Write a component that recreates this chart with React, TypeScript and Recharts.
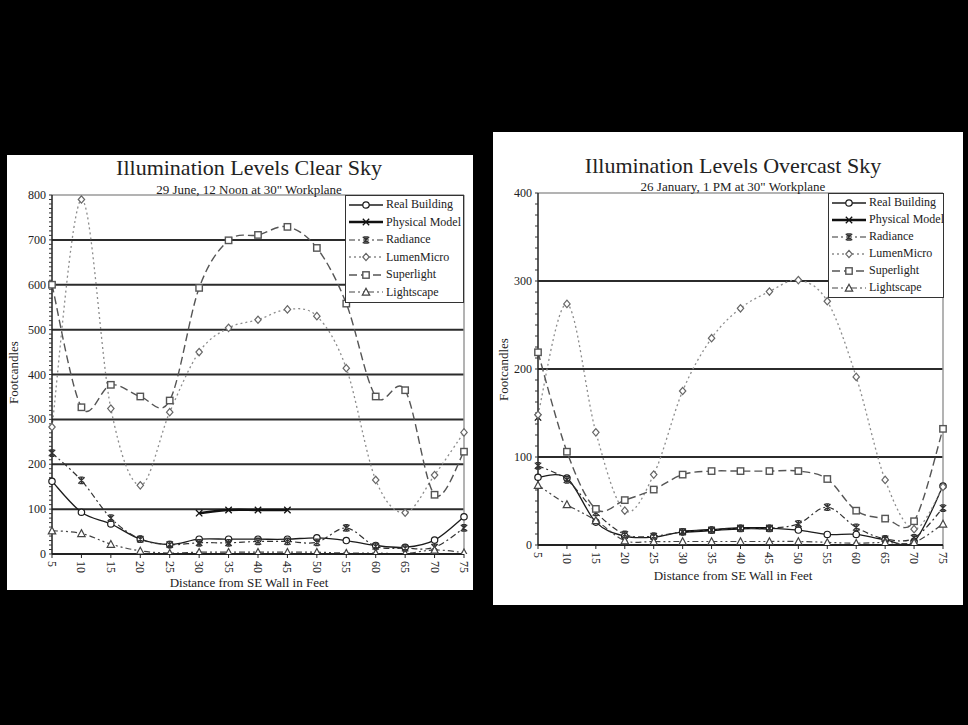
import { LineChart, Line, XAxis, YAxis, ReferenceLine, Legend } from 'recharts';

const DISTANCE = [5, 10, 15, 20, 25, 30, 35, 40, 45, 50, 55, 60, 65, 70, 75];
const SERIES_NAMES = ['Real Building', 'Physical Model', 'Radiance', 'LumenMicro', 'Superlight', 'Lightscape'];

// clear sky, 29 June
const CLEAR_REAL = [162, 93, 67, 33, 21, 33, 33, 33, 33, 36, 30, 19, 15, 31, 83];
const CLEAR_PHYSICAL = [null, null, null, null, null, 91, 98, 98, 98, null, null, null, null, null, null];
const CLEAR_RADIANCE = [225, 164, 80, 33, 21, 25, 25, 28, 28, 26, 58, 17, 13, 15, 58];
const CLEAR_LUMEN = [283, 790, 324, 153, 316, 450, 504, 522, 545, 530, 414, 165, 92, 176, 271];
const CLEAR_SUPERLIGHT = [600, 327, 377, 351, 342, 593, 699, 711, 729, 682, 558, 351, 365, 132, 228];
const CLEAR_LIGHTSCAPE = [52, 46, 22, 7, 2, 4, 4, 4, 4, 4, 2, 2, 1, 9, 3];
const CLEAR_Y_TICKS = [0, 100, 200, 300, 400, 500, 600, 700, 800];

// overcast sky, 26 January
const OVER_REAL = [77, 76, 26, 10, 9, 15, 17, 19, 19, 17, 12, 12, 6, 4, 67];
const OVER_PHYSICAL = [145, null, null, null, null, 15, 17, 19, 19, null, null, null, null, null, null];
const OVER_RADIANCE = [90, 74, 37, 12, 10, 15, 17, 19, 19, 24, 43, 20, 7, 8, 42];
const OVER_LUMEN = [148, 274, 128, 39, 80, 175, 235, 269, 288, 301, 277, 191, 74, 18, 66];
const OVER_SUPERLIGHT = [219, 106, 41, 51, 63, 80, 84, 84, 84, 84, 75, 39, 30, 27, 132];
const OVER_LIGHTSCAPE = [68, 46, 28, 5, 4, 4, 4, 4, 4, 4, 3, 2, 3, 3, 24];
const OVER_Y_TICKS = [0, 100, 200, 300, 400];

const FONT = '"Liberation Serif", "Times New Roman", serif';

const STYLES = [
  { key: 'real', marker: 'circle', stroke: '#1c1c1c', width: 1.3, dash: undefined },
  { key: 'physical', marker: 'x', stroke: '#111', width: 2.4, dash: undefined },
  { key: 'radiance', marker: 'star', stroke: '#333', width: 1.2, dash: '6 3 2 3' },
  { key: 'lumen', marker: 'diamond', stroke: '#8c8c8c', width: 1.3, dash: '2 3' },
  { key: 'superlight', marker: 'square', stroke: '#555', width: 1.4, dash: '8 4' },
  { key: 'lightscape', marker: 'triangle', stroke: '#444', width: 1.2, dash: '6 3 2 3 2 3' },
];

const buildRows = (series: (number | null)[][]) =>
  DISTANCE.map((d, i) => {
    const row: any = { d };
    STYLES.forEach((s, j) => (row[s.key] = series[j][i]));
    return row;
  });

const CLEAR_ROWS = buildRows([CLEAR_REAL, CLEAR_PHYSICAL, CLEAR_RADIANCE, CLEAR_LUMEN, CLEAR_SUPERLIGHT, CLEAR_LIGHTSCAPE]);
const OVER_ROWS = buildRows([OVER_REAL, OVER_PHYSICAL, OVER_RADIANCE, OVER_LUMEN, OVER_SUPERLIGHT, OVER_LIGHTSCAPE]);

// excel-like smoothing (catmull-rom through the points)
const excelCurve = (context: any) => {
  let pts: number[][] = [];
  return {
    areaStart() {},
    areaEnd() {},
    lineStart() { pts = []; },
    point(x: number, y: number) { pts.push([+x, +y]); },
    lineEnd() {
      if (!pts.length) return;
      context.moveTo(pts[0][0], pts[0][1]);
      for (let i = 0; i < pts.length - 1; i++) {
        const p0 = pts[Math.max(i - 1, 0)];
        const p1 = pts[i];
        const p2 = pts[i + 1];
        const p3 = pts[Math.min(i + 2, pts.length - 1)];
        context.bezierCurveTo(
          p1[0] + (p2[0] - p0[0]) / 6, p1[1] + (p2[1] - p0[1]) / 6,
          p2[0] - (p3[0] - p1[0]) / 6, p2[1] - (p3[1] - p1[1]) / 6,
          p2[0], p2[1]);
      }
    },
  };
};

function Marker({ kind, x, y, color }: { kind: string; x: number; y: number; color: string }) {
  const s = 3.2;
  const common = { fill: '#fff', stroke: color, strokeWidth: 1.2 };
  switch (kind) {
    case 'circle':
      return <circle cx={x} cy={y} r={s} {...common} />;
    case 'x':
      return <path d={`M${x - s},${y - s}L${x + s},${y + s}M${x - s},${y + s}L${x + s},${y - s}`} stroke={color} strokeWidth={1.3} />;
    case 'star':
      return <path d={`M${x - s},${y - s}L${x + s},${y + s}M${x - s},${y + s}L${x + s},${y - s}M${x},${y - s}V${y + s}M${x - 2},${y - s}H${x + 2}M${x - 2},${y + s}H${x + 2}`} stroke={color} strokeWidth={1.3} />;
    case 'diamond':
      return <polygon points={`${x},${y - s - 0.5} ${x + s},${y} ${x},${y + s + 0.5} ${x - s},${y}`} {...common} />;
    case 'square':
      return <rect x={x - s} y={y - s} width={s * 2} height={s * 2} {...common} strokeWidth={1.4} />;
    default:
      return <polygon points={`${x},${y - s - 0.5} ${x + s + 0.5},${y + s} ${x - s - 0.5},${y + s}`} {...common} />;
  }
}

const markerStroke = (s: any) => (s.key === 'lumen' ? '#666' : s.stroke);

const makeDot = (s: any) => (p: any) => {
  const key = `${s.key}-${p.index}`;
  if (p.cx == null || p.cy == null || p.value == null) return <g key={key} />;
  return <g key={key}><Marker kind={s.marker} x={p.cx} y={p.cy} color={markerStroke(s)} /></g>;
};

const YTick = ({ x, y, payload }: any) =>
  payload.value % 100 === 0 ? (
    <text x={x} y={y} dy={4} textAnchor="end" fontSize={12} fill="#222" fontFamily={FONT}>{payload.value}</text>
  ) : <g />;

const XTick = ({ x, y, payload }: any) => (
  <text x={x} y={y} dx={1} dy={4} transform={`rotate(90 ${x} ${y})`} textAnchor="start" fontSize={12} fill="#222" fontFamily={FONT}>
    {payload.value}
  </text>
);

const LegendBox = ({ rowH }: { rowH: number }) => (
  <div style={{ border: '1.5px solid #333', background: '#fff', boxSizing: 'border-box', height: '100%' }}>
    {STYLES.map((s, i) => (
      <div key={s.key} style={{ display: 'flex', alignItems: 'center', height: rowH }}>
        <svg width={40} height={10} style={{ flex: 'none' }}>
          <line x1={3} y1={5} x2={37} y2={5} stroke={s.stroke} strokeWidth={s.width} strokeDasharray={s.dash} />
          <Marker kind={s.marker} x={20} y={5} color={markerStroke(s)} />
        </svg>
        <span style={{ fontFamily: FONT, fontSize: 12, color: '#222', whiteSpace: 'nowrap' }}>{SERIES_NAMES[i]}</span>
      </div>
    ))}
  </div>
);

type PanelProps = {
  left: number; top: number; width: number; height: number;
  title: string; subtitle: string;
  rows: any[]; yTicks: number[]; minorStep: number;
  margin: { top: number; right: number; bottom: number; left: number };
  titleTop: number; subTop: number; centerX: number;
  xTitleTop: number; yTitleX: number; yTitleY: number;
  legend: { left: number; top: number; width: number; height: number };
};

function Panel(p: PanelProps) {
  const yMax = p.yTicks[p.yTicks.length - 1];
  const minor: number[] = [];
  for (let v = 0; v <= yMax + 0.01; v += p.minorStep) minor.push(v);
  const text = (t: string, top: number, size: number, cx: number) => (
    <div style={{ position: 'absolute', left: cx - 220, width: 440, top, textAlign: 'center', fontFamily: FONT, fontSize: size, lineHeight: `${size}px`, color: '#222', whiteSpace: 'nowrap' }}>{t}</div>
  );
  return (
    <div style={{ position: 'absolute', left: p.left, top: p.top, width: p.width, height: p.height, background: '#fff', overflow: 'hidden' }}>
      <LineChart width={p.width} height={p.height} data={p.rows} margin={p.margin}>
        <XAxis dataKey="d" type="number" domain={[5, 75]} ticks={DISTANCE} tick={<XTick />} tickSize={4} tickMargin={2}
          height={24} axisLine={{ stroke: '#222', strokeWidth: 2 }} tickLine={{ stroke: '#222' }} interval={0} />
        <YAxis type="number" domain={[0, yMax]} ticks={minor} tick={<YTick />} tickSize={3} tickMargin={3} width={30}
          axisLine={{ stroke: '#222', strokeWidth: 1.5 }} tickLine={{ stroke: '#333' }} interval={0} allowDataOverflow />
        {p.yTicks.filter((v) => v > 0 && v < yMax).map((v) => (
          <ReferenceLine key={v} y={v} stroke="#2b2b2b" strokeWidth={2} />
        ))}
        <ReferenceLine y={yMax} stroke="#9a9a9a" strokeWidth={1.5} />
        <ReferenceLine x={75} stroke="#9a9a9a" strokeWidth={1.5} />
        {STYLES.map((s) => (
          <Line key={s.key} dataKey={s.key} type={excelCurve as any} stroke={s.stroke} strokeWidth={s.width}
            strokeDasharray={s.dash} dot={makeDot(s)} activeDot={false} isAnimationActive={false} connectNulls={false} />
        ))}
        <Legend layout="horizontal" verticalAlign="middle" align="center"
          wrapperStyle={{ left: p.legend.left, top: p.legend.top, width: p.legend.width, height: p.legend.height }}
          content={() => <LegendBox rowH={(p.legend.height - 3) / 6} />} />
      </LineChart>
      {text(p.title, p.titleTop, 22, p.centerX)}
      {text(p.subtitle, p.subTop, 13, p.centerX)}
      {text('Distance from SE Wall in Feet', p.xTitleTop, 13, p.centerX)}
      <div style={{ position: 'absolute', left: p.yTitleX - 60, top: p.yTitleY - 7, width: 120, textAlign: 'center', transform: 'rotate(-90deg)', fontFamily: FONT, fontSize: 13, lineHeight: '13px', color: '#222' }}>
        Footcandles
      </div>
    </div>
  );
}

export default function App() {
  return (
    <div style={{ position: 'absolute', left: 0, top: 0, width: 968, height: 725, background: '#000', overflow: 'hidden' }}>
      <Panel left={7} top={155} width={466} height={435}
        title="Illumination Levels Clear Sky" subtitle={'29 June, 12 Noon at 30" Workplane'}
        rows={CLEAR_ROWS} yTicks={CLEAR_Y_TICKS} minorStep={10}
        margin={{ top: 40, right: 9, bottom: 12, left: 15 }}
        titleTop={2} subTop={28} centerX={242} xTitleTop={421} yTitleX={6} yTitleY={218}
        legend={{ left: 338, top: 40, width: 119, height: 108 }} />
      <Panel left={493} top={132} width={470} height={473}
        title="Illumination Levels Overcast Sky" subtitle={'26 January, 1 PM at 30" Workplane'}
        rows={OVER_ROWS} yTicks={OVER_Y_TICKS} minorStep={12.5}
        margin={{ top: 61, right: 20, bottom: 36, left: 15 }}
        titleTop={23} subTop={48} centerX={240} xTitleTop={437} yTitleX={10} yTitleY={238}
        legend={{ left: 335, top: 61, width: 116, height: 105 }} />
    </div>
  );
}
